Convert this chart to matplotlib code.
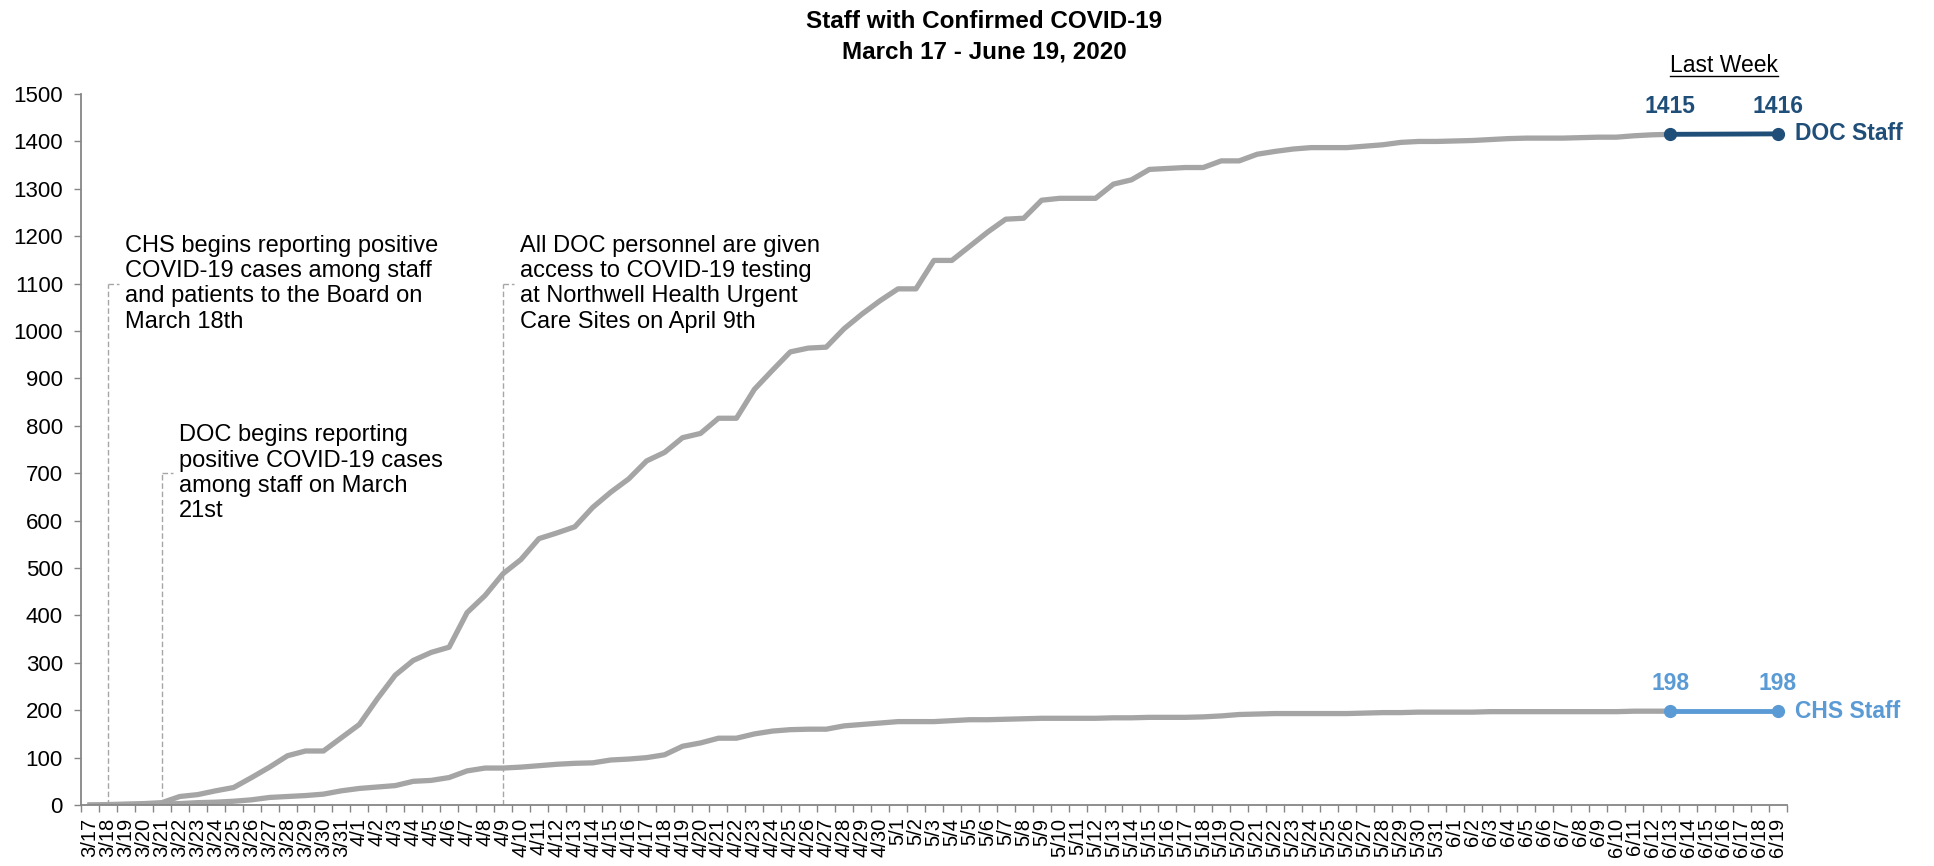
import matplotlib
matplotlib.use('Agg')
import matplotlib.pyplot as plt
import numpy as np
import pandas as pd
from matplotlib.lines import Line2D

plt.rcParams['font.family'] = ['Liberation Sans', 'DejaVu Sans']

# one category per day, 3/17 .. 6/19
dates = ['{}/{}'.format(d.month, d.day) for d in pd.date_range('2020-03-17', '2020-06-19')]

# cumulative counts 3/17 .. 6/13
doc_staff = [0, 1, 2, 3, 5, 18, 22, 30, 37, 58,
             80, 104, 114, 114, 142, 170, 224, 274, 305, 322,
             333, 406, 442, 488, 518, 562, 574, 587, 628, 660,
             688, 726, 744, 775, 784, 816, 816, 877, 917, 956,
             964, 966, 1005, 1036, 1064, 1089, 1089, 1149, 1149, 1179,
             1209, 1236, 1238, 1276, 1280, 1280, 1280, 1310, 1319, 1341,
             1343, 1345, 1345, 1359, 1359, 1373, 1379, 1384, 1387, 1387,
             1387, 1390, 1393, 1398, 1400, 1400, 1401, 1402, 1404, 1406,
             1407, 1407, 1407, 1408, 1409, 1409, 1412, 1414, 1415]
chs_staff = [0, 0, 1, 1, 2, 3, 5, 6, 8, 11,
             16, 18, 20, 23, 30, 35, 38, 41, 50, 52,
             58, 72, 78, 78, 80, 83, 86, 88, 89, 95,
             97, 100, 106, 124, 131, 141, 141, 150, 156, 159,
             160, 160, 167, 170, 173, 176, 176, 176, 178, 180,
             180, 181, 182, 183, 183, 183, 183, 184, 184, 185,
             185, 185, 186, 188, 191, 192, 193, 193, 193, 193,
             193, 194, 195, 195, 196, 196, 196, 196, 197, 197,
             197, 197, 197, 197, 197, 197, 198, 198, 198]

last_week_dates = ['6/13', '6/19']
doc_last_week = [1415, 1416]
chs_last_week = [198, 198]

note_dates = ['3/18', '3/21', '4/9']
note_levels = [1100, 700, 1100]
note_texts = ['CHS begins reporting positive\nCOVID-19 cases among staff\nand patients to the Board on\nMarch 18th',
              'DOC begins reporting\npositive COVID-19 cases\namong staff on March\n21st',
              'All DOC personnel are given\naccess to COVID-19 testing\nat Northwell Health Urgent\nCare Sites on April 9th']

grey = '#A5A5A5'
doc_blue = '#1F4E79'
chs_blue = '#5B9BD5'
axis_grey = '#868686'

fig = plt.figure(figsize=(19.34, 8.66), dpi=100)
ax = fig.add_axes([0.0419, 0.0704, 0.882, 0.821])

x = np.arange(len(dates))
pos = {d: i for i, d in enumerate(dates)}

# annotation leader lines + text
for d, lvl, txt in zip(note_dates, note_levels, note_texts):
    i = pos[d]
    ax.plot([i, i], [0, lvl], color='#A6A6A6', lw=1, ls=(0, (4, 2)), zorder=1)
    ax.plot([i, i + 0.6], [lvl, lvl], color='#A6A6A6', lw=1, ls=(0, (4, 2)), zorder=1)
    ax.text(i + 0.95, lvl, txt, ha='left', va='center', fontsize=17, color='black')

ax.plot(x[:len(doc_staff)], doc_staff, color=grey, lw=3.8, solid_joinstyle='round', zorder=2)
ax.plot(x[:len(chs_staff)], chs_staff, color=grey, lw=3.8, solid_joinstyle='round', zorder=2)

lw_x = [pos[d] for d in last_week_dates]
for vals, c, name in [(doc_last_week, doc_blue, 'DOC Staff'), (chs_last_week, chs_blue, 'CHS Staff')]:
    ax.plot(lw_x, vals, color=c, lw=3.5, marker='o', markersize=8.5, zorder=3, clip_on=False)
    for xi, v in zip(lw_x, vals):
        ax.annotate(str(v), (xi, v), xytext=(0, 20), textcoords='offset points',
                    ha='center', va='center', fontsize=16.5, fontweight='bold', color=c)
    ax.annotate(name, (lw_x[-1], vals[-1]), xytext=(12, 0), textcoords='offset points',
                ha='left', va='center', fontsize=16.5, fontweight='bold', color=c, annotation_clip=False)

lw_title = ax.text((lw_x[0] + lw_x[1]) / 2, 1560, 'Last Week', ha='center', va='center',
                   fontsize=16.5, color='black')

ax.set_xlim(-0.5, len(dates) - 0.5)
ax.set_ylim(0, 1500)
ax.set_yticks(np.arange(0, 1501, 100))
ax.set_xticks(x)
ax.set_xticklabels(dates, rotation=90)
ax.set_xticks(np.arange(len(dates) + 1) - 0.5, minor=True)
ax.tick_params(axis='x', which='major', length=0, pad=9, labelsize=14.5)
ax.tick_params(axis='x', which='minor', length=5, width=1, color=axis_grey, direction='out')
ax.tick_params(axis='y', length=5, width=1, color=axis_grey, pad=8, labelsize=16)

for s in ['top', 'right']:
    ax.spines[s].set_visible(False)
for s in ['left', 'bottom']:
    ax.spines[s].set_color(axis_grey)
    ax.spines[s].set_linewidth(1.3)

fig.text(0.509, 0.988, 'Staff with Confirmed COVID-19\nMarch 17 - June 19, 2020',
         ha='center', va='top', fontsize=17.5, fontweight='bold', linespacing=1.4)

# underline "Last Week"
fig.canvas.draw()
bb = lw_title.get_window_extent(fig.canvas.get_renderer())
inv = fig.transFigure.inverted()
(x0, y0), (x1, _) = inv.transform([(bb.x0, bb.y0 + 1), (bb.x1, bb.y0 + 1)])
fig.add_artist(Line2D([x0, x1], [y0, y0], color='black', lw=1, transform=fig.transFigure))

fig.savefig('out.png', dpi=100)
